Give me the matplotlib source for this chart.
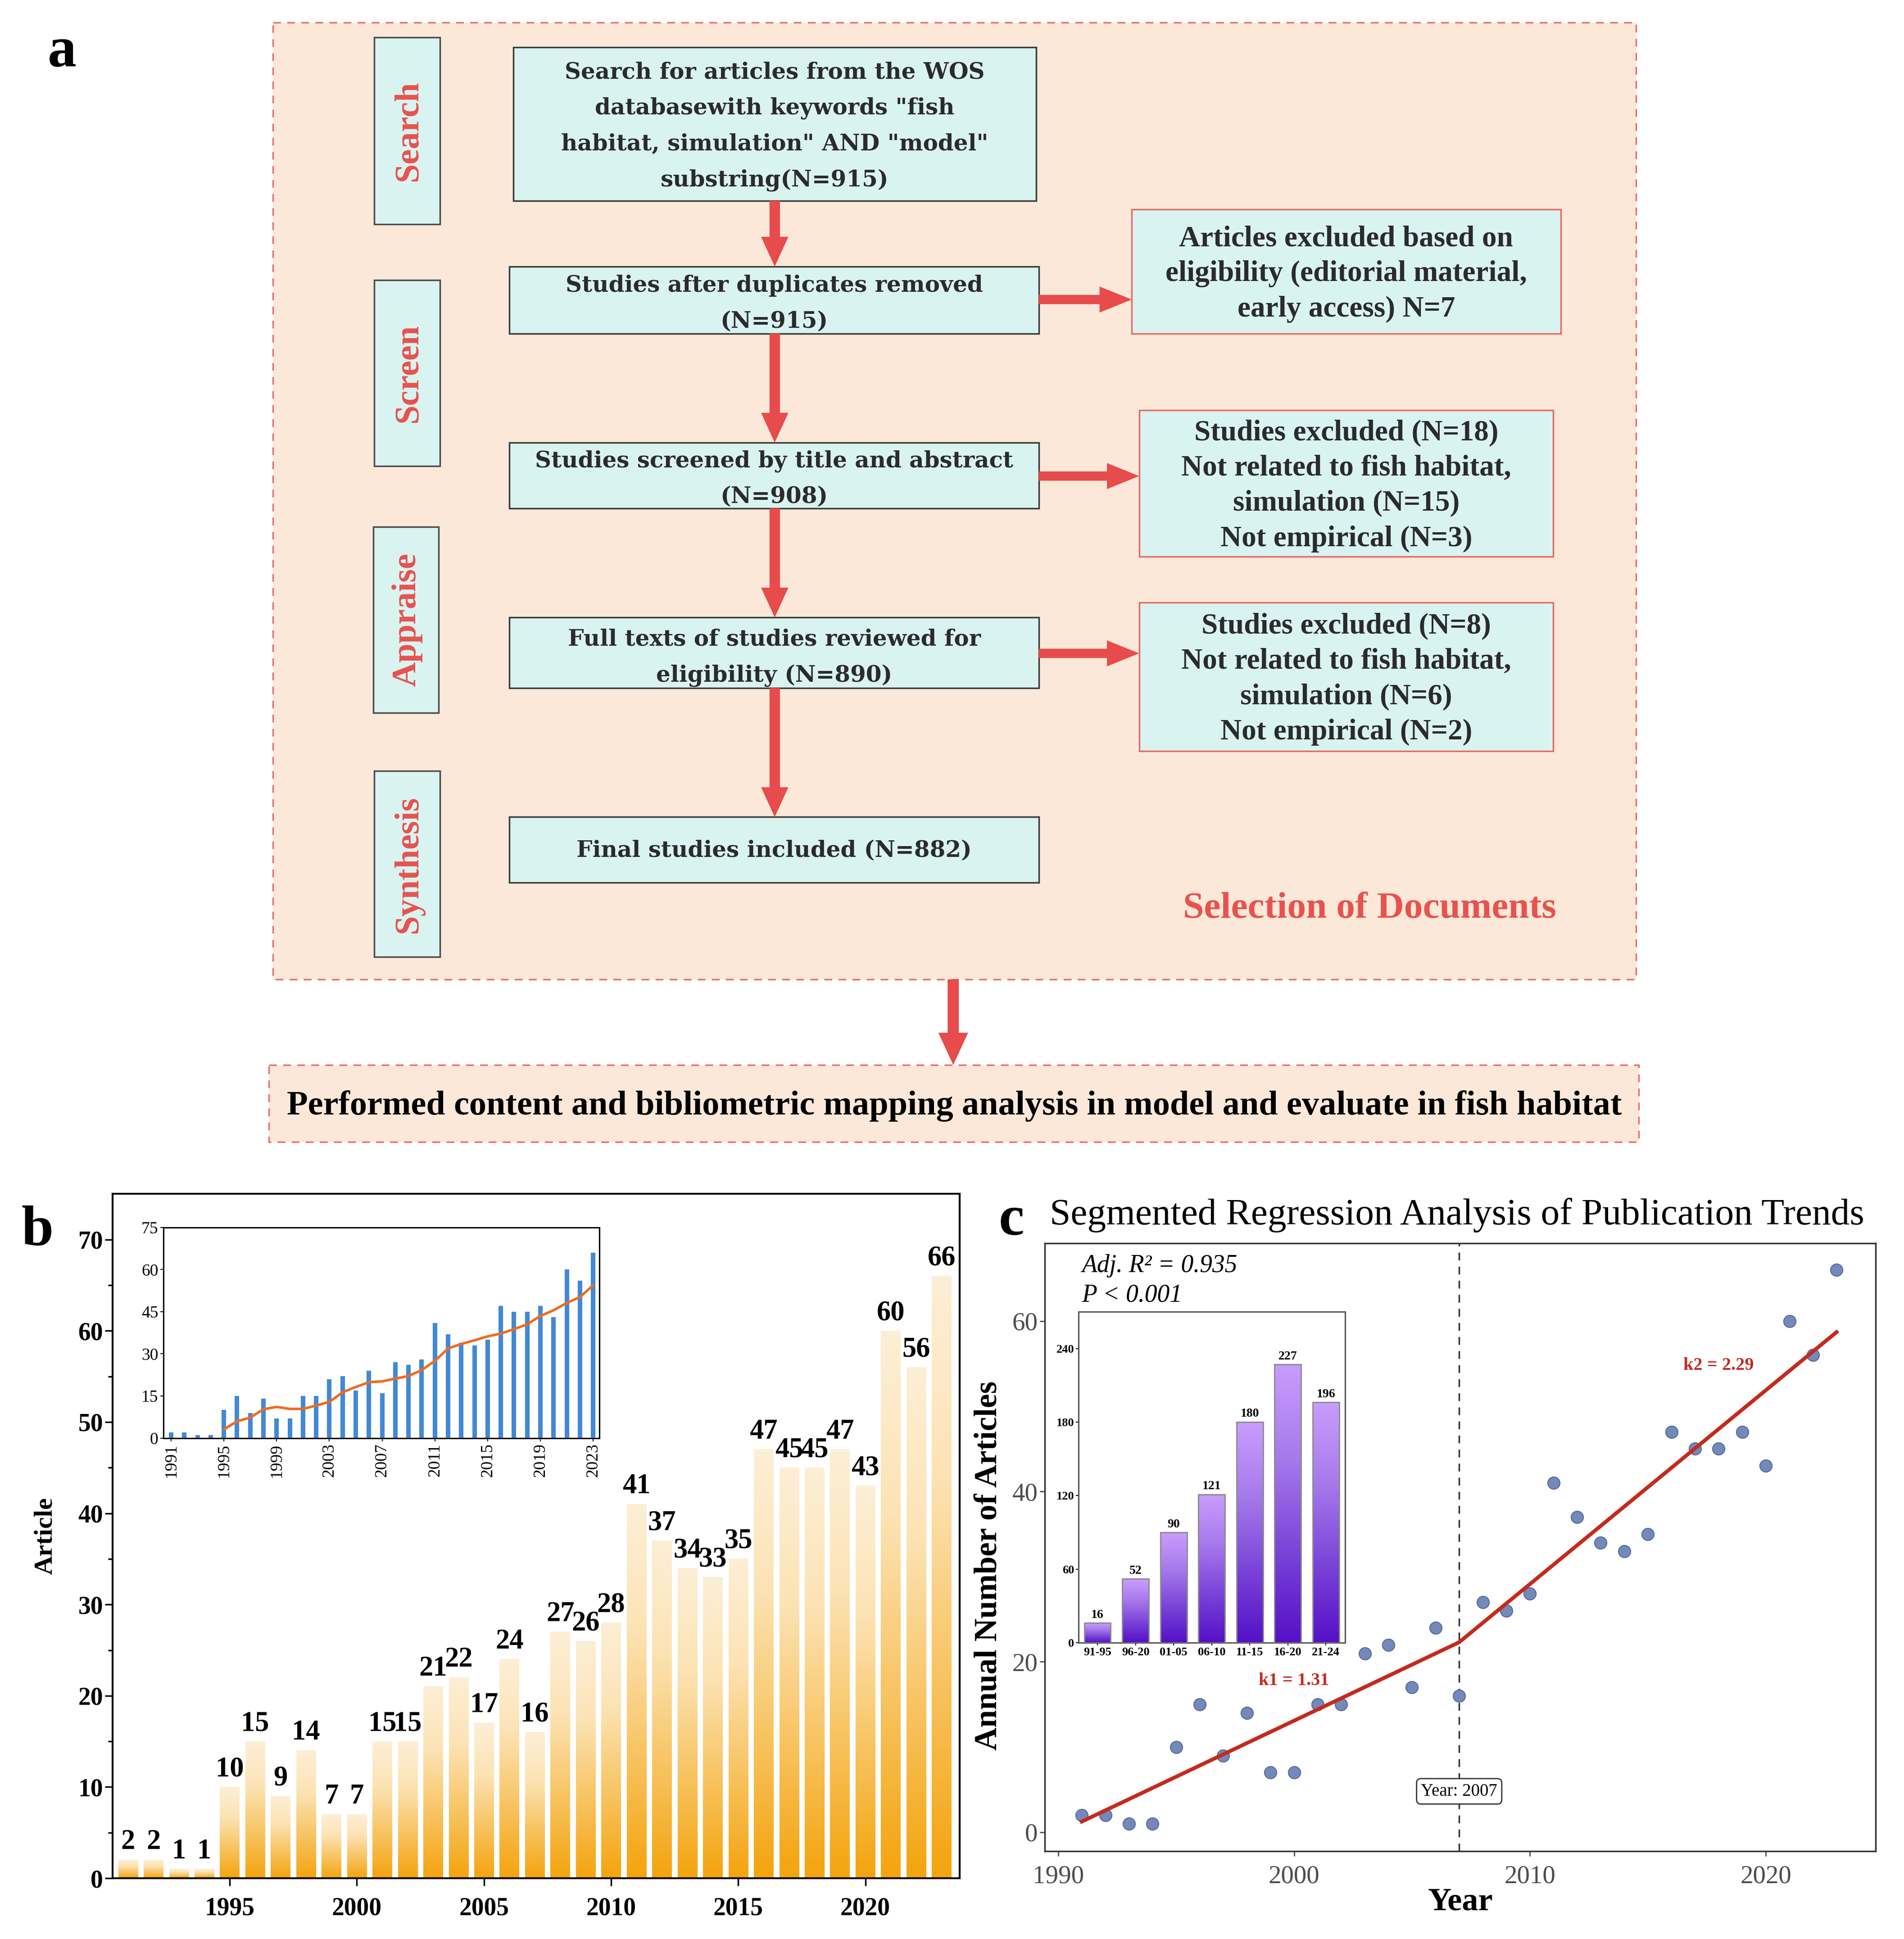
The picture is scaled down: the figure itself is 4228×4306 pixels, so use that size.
import numpy as np
import matplotlib
matplotlib.use("Agg")
import matplotlib.pyplot as plt
from matplotlib.patches import Rectangle, FancyArrow
from matplotlib.colors import LinearSegmentedColormap

plt.rcParams['font.family'] = ['Liberation Serif', 'DejaVu Serif']

# ---- data ----
years = [1991, 1992, 1993, 1994, 1995, 1996, 1997, 1998, 1999, 2000, 2001,
         2002, 2003, 2004, 2005, 2006, 2007, 2008, 2009, 2010, 2011, 2012,
         2013, 2014, 2015, 2016, 2017, 2018, 2019, 2020, 2021, 2022, 2023]
counts = [2, 2, 1, 1, 10, 15, 9, 14, 7, 7, 15, 15, 21, 22, 17, 24, 16, 27,
          26, 28, 41, 37, 34, 33, 35, 47, 45, 45, 47, 43, 60, 56, 66]

# trend line of the small inset in b
trend_years = years[4:]
trend_vals = [3.1, 6.0, 7.3, 10.3, 11.1, 10.4, 10.4, 11.6, 12.9, 16.3, 18.2,
              19.9, 20.2, 21.2, 22.1, 24.2, 27.5, 31.9, 33.5, 34.8, 36.2,
              37.2, 38.8, 40.5, 43.5, 45.5, 48.1, 50.2, 54.4]
inset_b_ticks = [1991, 1995, 1999, 2003, 2007, 2011, 2015, 2019, 2023]

# segmented regression
seg_years = [1991, 2007, 2023]
seg_fit = [1.25, 22.3, 58.7]
break_year = 2007

# five-year totals
periods = ['91-95', '96-20', '01-05', '06-10', '11-15', '16-20', '21-24']
period_totals = [16, 52, 90, 121, 180, 227, 196]

# flowchart texts
main_texts = [
    'Search for articles from the WOS\ndatabasewith keywords "fish\n'
    'habitat, simulation" AND "model"\nsubstring(N=915)',
    'Studies after duplicates removed\n(N=915)',
    'Studies screened by title and abstract\n(N=908)',
    'Full texts of studies reviewed for\neligibility (N=890)',
    'Final studies included (N=882)',
]
side_texts = [
    'Articles excluded based on\neligibility (editorial material,\nearly access) N=7',
    'Studies excluded (N=18)\nNot related to fish habitat,\nsimulation (N=15)\nNot empirical (N=3)',
    'Studies excluded (N=8)\nNot related to fish habitat,\nsimulation (N=6)\nNot empirical (N=2)',
]
stage_names = ['Search', 'Screen', 'Appraise', 'Synthesis']

# ---- layout (reference picture is ~1536 x 1564 units) ----
W, H = 1536, 1564


def rect(x0, y0, x1, y1):
    return [x0 / W, 1 - y1 / H, (x1 - x0) / W, (y1 - y0) / H]


def gradient_bars(ax, xs, hs, width, cmap, edge=None):
    grad = np.linspace(0, 1, 256).reshape(-1, 1)
    for x, h in zip(xs, hs):
        ax.imshow(grad, extent=[x - width / 2, x + width / 2, 0, h], origin='lower',
                  aspect='auto', cmap=cmap, zorder=2, interpolation='bilinear')
        if edge is not None:
            ax.add_patch(Rectangle((x - width / 2, 0), width, h, fill=False,
                                   edgecolor=edge, lw=2, zorder=3))


fig = plt.figure(figsize=(42.28, 43.06), dpi=100)

# ---------------- panel a: flowchart ----------------
bg = fig.add_axes([0, 0, 1, 1])
bg.set_xlim(0, W)
bg.set_ylim(H, 0)
bg.axis('off')

peach = '#FBE8D8'
cyan = '#D9F3F1'
red = '#E84B4B'
dash_col = '#EC6F6A'

bg.add_patch(Rectangle((220, 18), 1100, 772, facecolor=peach, edgecolor=dash_col,
                       lw=2.5, ls=(0, (5, 4))))
bg.add_patch(Rectangle((217, 859), 1105, 62, facecolor=peach, edgecolor=dash_col,
                       lw=2.5, ls=(0, (5, 4))))

stage_boxes = [(302, 30, 355, 181), (302, 226, 355, 376),
               (301, 425, 354, 575), (302, 622, 355, 772)]
for (x0, y0, x1, y1), name in zip(stage_boxes, stage_names):
    bg.add_patch(Rectangle((x0, y0), x1 - x0, y1 - y0, facecolor=cyan,
                           edgecolor='#4a4a4a', lw=2.5))
    bg.text((x0 + x1) / 2 + 1, (y0 + y1) / 2, name, rotation=90, ha='center',
            va='center', color='#E8524E', fontsize=55, fontweight='bold')

main_boxes = [(414, 38, 836, 162), (411, 215, 838, 269), (411, 357, 838, 410),
              (411, 498, 838, 555), (411, 659, 838, 712)]
text_dy = [2, 3, 3, 4, 1]
for (x0, y0, x1, y1), txt, dy in zip(main_boxes, main_texts, text_dy):
    bg.add_patch(Rectangle((x0, y0), x1 - x0, y1 - y0, facecolor=cyan,
                           edgecolor='#3a3a3a', lw=2.5, zorder=2))
    bg.text((x0 + x1) / 2, (y0 + y1) / 2 + dy, txt, ha='center', va='center',
            family='DejaVu Serif', fontweight='bold', fontsize=36, color='#2b2b2b',
            linespacing=1.8, zorder=4)

side_boxes = [(913, 169, 1259, 269), (919, 331, 1253, 449), (919, 486, 1253, 606)]
for (x0, y0, x1, y1), txt in zip(side_boxes, side_texts):
    bg.add_patch(Rectangle((x0, y0), x1 - x0, y1 - y0, facecolor=cyan,
                           edgecolor='#E86A64', lw=2.5, zorder=2))
    bg.text((x0 + x1) / 2, (y0 + y1) / 2 + 2, txt, ha='center', va='center',
            fontweight='bold', fontsize=47, color='#2b2b2b', linespacing=1.4,
            zorder=4)

# down arrows between main boxes
cx = 625
for (_, _, _, yb), (_, yt, _, _) in zip(main_boxes[:-1], main_boxes[1:]):
    bg.add_patch(FancyArrow(cx, yb, 0, yt - yb, width=8.4, head_width=22,
                            head_length=24, length_includes_head=True,
                            color=red, lw=0, zorder=3))
# side arrows
for ya, (x0, _, _, _) in zip([241.6, 384, 527], side_boxes):
    bg.add_patch(FancyArrow(838, ya, x0 - 838, 0, width=7.5, head_width=21,
                            head_length=26, length_includes_head=True,
                            color=red, lw=0, zorder=3))
# big arrow to bottom box
bg.add_patch(FancyArrow(769, 790, 0, 69, width=9, head_width=24, head_length=26,
                        length_includes_head=True, color=red, lw=0, zorder=3))

bg.text(1105, 733, 'Selection of Documents', ha='center', va='center',
        color='#E8524E', fontsize=60, fontweight='bold')
bg.text(770, 892, 'Performed content and bibliometric mapping analysis in model '
        'and evaluate in fish habitat', ha='center', va='center', color='black',
        fontsize=55, fontweight='bold')

bg.text(50, 42, 'a', ha='center', va='center', fontsize=92, fontweight='bold')
bg.text(30, 993, 'b', ha='center', va='center', fontsize=92, fontweight='bold')
bg.text(816, 985, 'c', ha='center', va='center', fontsize=92, fontweight='bold')
bg.text(847, 980, 'Segmented Regression Analysis of Publication Trends',
        ha='left', va='center', fontsize=60)

# ---------------- panel b ----------------
orange_cmap = LinearSegmentedColormap.from_list(
    'orng', ['#F4A40E', '#F8C462', '#FCE3B4', '#FDEFD6'])
axb = fig.add_axes(rect(91, 963, 774, 1515))
gradient_bars(axb, years, counts, 0.77, orange_cmap)
for x, h in zip(years, counts):
    axb.text(x, h + 0.5, str(h), ha='center', va='bottom', fontsize=45,
             fontweight='bold', zorder=5)
axb.set_xlim(1990.4, 2023.7)
axb.set_ylim(0, 75)
axb.set_yticks(range(0, 71, 10))
axb.set_yticks(range(5, 75, 10), minor=True)
axb.set_xticks([1995, 2000, 2005, 2010, 2015, 2020])
axb.tick_params(axis='both', direction='out', length=12, width=2.5, labelsize=40)
axb.tick_params(axis='x', pad=18)
axb.tick_params(axis='y', which='minor', direction='out', length=7, width=2.5)
for lab in axb.get_xticklabels() + axb.get_yticklabels():
    lab.set_fontweight('bold')
for sp in axb.spines.values():
    sp.set_linewidth(3)
axb.set_ylabel('Article', fontsize=42, fontweight='bold')
axb.yaxis.set_label_coords(-0.066, 0.5)

# inset of b
axbi = fig.add_axes(rect(132, 990, 483.5, 1160))
axbi.bar(years, counts, width=0.34, color='#4189D6', zorder=2)
axbi.plot(trend_years, trend_vals, color='#EE6B20', lw=4, zorder=3)
axbi.set_xlim(1990.43, 2023.47)
axbi.set_ylim(0, 75)
axbi.set_yticks(range(0, 76, 15))
axbi.set_xticks(inset_b_ticks)
axbi.tick_params(axis='x', rotation=90)
axbi.tick_params(axis='both', direction='out', length=5, width=1.5, labelsize=27)
for sp in axbi.spines.values():
    sp.set_linewidth(2.2)

# ---------------- panel c ----------------
axc = fig.add_axes(rect(843, 1003, 1513, 1493))
axc.scatter(years, counts, s=380, color='#7489BA', edgecolor='#536A96',
            linewidth=1.5, zorder=3)
axc.plot(seg_years, seg_fit, color='#C42A1D', lw=6, zorder=4)
axc.axvline(break_year, color='#333333', lw=2.5, ls=(0, (5, 4)), zorder=2)
axc.set_xlim(1989.44, 2024.65)
axc.set_ylim(-2.2, 69.1)
axc.set_xticks([1990, 2000, 2010, 2020])
axc.set_yticks([0, 20, 40, 60])
axc.tick_params(axis='both', direction='out', length=8, width=2, colors='#4d4d4d',
                labelsize=41)
axc.tick_params(axis='x', pad=14)
for sp in axc.spines.values():
    sp.set_linewidth(2.5)
    sp.set_color('#333333')
axc.set_ylabel('Annual Number of Articles', fontsize=51, fontweight='bold')
axc.yaxis.set_label_coords(-0.05, 0.47)
axc.set_xlabel('Year', fontsize=52, fontweight='bold')
axc.xaxis.set_label_coords(0.5, -0.06)
axc.text(1991.0, 66.5, 'Adj. R² = 0.935', fontsize=40, fontstyle='italic',
         ha='left', va='center')
axc.text(1991.0, 63.0, 'P < 0.001', fontsize=40, fontstyle='italic',
         ha='left', va='center')
axc.text(2000.0, 17.8, 'k1 = 1.31', fontsize=29, fontweight='bold', color='#C42A1D',
         ha='center', va='center')
axc.text(2018.0, 54.8, 'k2 = 2.29', fontsize=29, fontweight='bold', color='#C42A1D',
         ha='center', va='center')
axc.text(break_year, 4.8, 'Year: 2007', fontsize=28, ha='center', va='center',
         zorder=5, bbox=dict(boxstyle='round,pad=0.25', facecolor='white',
                             edgecolor='#333333', lw=2))

# inset of c
purple_cmap = LinearSegmentedColormap.from_list(
    'purp', ['#5510C8', '#7A45D8', '#A77AEC', '#C99DFC'])
axci = fig.add_axes(rect(870, 1058, 1085, 1325))
xs = list(range(len(periods)))
gradient_bars(axci, xs, period_totals, 0.695, purple_cmap, edge='#8a8a8a')
for x, h in zip(xs, period_totals):
    axci.text(x, h + 2, str(h), ha='center', va='bottom', fontsize=20,
              fontweight='bold', zorder=5)
axci.set_xlim(-0.5, 6.5)
axci.set_ylim(0, 270)
axci.set_xticks(xs)
axci.set_xticklabels(periods)
axci.set_yticks([0, 60, 120, 180, 240])
axci.tick_params(axis='both', direction='out', length=4, width=1.5, labelsize=19,
                 pad=3)
for lab in axci.get_xticklabels() + axci.get_yticklabels():
    lab.set_fontweight('bold')
for sp in axci.spines.values():
    sp.set_linewidth(2.2)
    sp.set_color('#555555')

fig.savefig('out.png', dpi=100)
